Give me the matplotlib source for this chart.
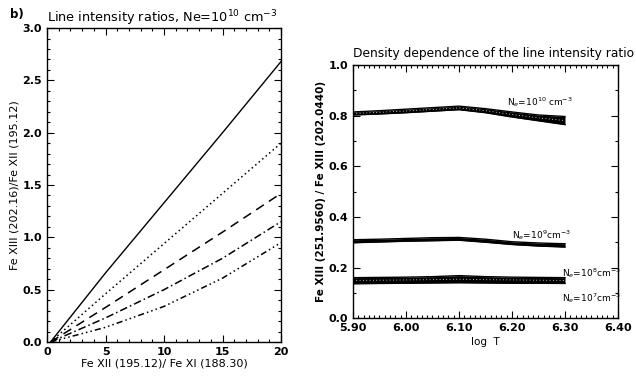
import numpy as np
import matplotlib
matplotlib.use("Agg")
import matplotlib.pyplot as plt
from matplotlib.ticker import MultipleLocator

# left panel: ratio vs ratio, Ne = 1e10
ratio_x = [0.3, 5, 10, 15, 20]
solid_y = [0.0, 0.66, 1.33, 2.00, 2.68]
dotted_y = [0.0, 0.46, 0.94, 1.42, 1.90]
dashed_y = [0.0, 0.33, 0.69, 1.05, 1.42]
dashdot_y = [0.0, 0.23, 0.50, 0.80, 1.15]
dashdots_y = [0.0, 0.14, 0.34, 0.61, 0.95]

# right panel: density dependence vs log T
logt = [5.90, 5.95, 6.00, 6.05, 6.10, 6.15, 6.20, 6.25, 6.30]
ne10_hi = [0.815, 0.820, 0.826, 0.832, 0.838, 0.828, 0.815, 0.803, 0.797]
ne10_lo = [0.803, 0.807, 0.812, 0.818, 0.824, 0.812, 0.795, 0.780, 0.765]
ne9_hi = [0.310, 0.312, 0.315, 0.318, 0.319, 0.312, 0.302, 0.297, 0.294]
ne9_lo = [0.298, 0.301, 0.304, 0.306, 0.308, 0.300, 0.291, 0.285, 0.281]
ne8_hi = [0.160, 0.161, 0.162, 0.164, 0.168, 0.164, 0.162, 0.161, 0.160]
ne7_lo = [0.136, 0.137, 0.138, 0.139, 0.140, 0.139, 0.138, 0.138, 0.137]
ne78_mid = [0.149, 0.150, 0.151, 0.152, 0.154, 0.152, 0.151, 0.150, 0.149]

fig = plt.figure(figsize=(6.36, 3.81), dpi=100)


def idl_axes(ax):
    ax.tick_params(which="both", direction="in", top=True, right=True, width=0.8)
    ax.tick_params(which="major", length=5)
    ax.tick_params(which="minor", length=2.5)
    for s in ax.spines.values():
        s.set_linewidth(1.0)
    for lab in ax.get_xticklabels() + ax.get_yticklabels():
        lab.set_fontweight("bold")
        lab.set_fontsize(8)


# ---- left
ax1 = fig.add_axes([0.0739, 0.1024, 0.368, 0.824])
ax1.plot(ratio_x, solid_y, color="black", lw=1.0, ls="-")
ax1.plot(ratio_x, dotted_y, color="black", lw=1.1, ls=(0, (1, 2)))
ax1.plot(ratio_x, dashed_y, color="black", lw=1.1, ls=(0, (6, 4)))
ax1.plot(ratio_x, dashdot_y, color="black", lw=1.1, ls=(0, (5, 2, 1, 2)))
ax1.plot(ratio_x, dashdots_y, color="black", lw=1.1, ls=(0, (4, 2, 1, 2, 1, 2, 1, 2)))
ax1.set_xlim(0, 20)
ax1.set_ylim(0, 3.0)
ax1.xaxis.set_major_locator(MultipleLocator(5))
ax1.xaxis.set_minor_locator(MultipleLocator(1))
ax1.yaxis.set_major_locator(MultipleLocator(0.5))
ax1.yaxis.set_minor_locator(MultipleLocator(0.1))
ax1.set_yticks([0, 0.5, 1.0, 1.5, 2.0, 2.5, 3.0])
ax1.set_yticklabels(["0.0", "0.5", "1.0", "1.5", "2.0", "2.5", "3.0"])
idl_axes(ax1)
ax1.set_xlabel("Fe XII (195.12)/ Fe XI (188.30)", fontsize=8, labelpad=1)
ax1.set_ylabel("Fe XIII (202.16)/Fe XII (195.12)", fontsize=8, labelpad=2)
ax1.set_title("Line intensity ratios, Ne=10$^{10}$ cm$^{-3}$", fontsize=9.3, pad=3, loc="left")
fig.text(0.015, 0.962, "b)", fontsize=8.5, fontweight="bold", va="center")

# ---- right
ax2 = fig.add_axes([0.555, 0.165, 0.4167, 0.664])
bands = [(ne10_lo, ne10_hi), (ne9_lo, ne9_hi), (ne7_lo, ne8_hi)]
for lo, hi in bands:
    ax2.fill_between(logt, lo, hi, color="black", lw=0)
    ax2.plot(logt, lo, color="black", lw=1.0)
    ax2.plot(logt, hi, color="black", lw=1.0)
ax2.plot(logt, ne78_mid, color="white", lw=0.6, ls=(0, (1, 3)))
ax2.plot(logt, [(a + b) / 2 for a, b in zip(ne10_lo, ne10_hi)], color="white", lw=0.6, ls=(0, (1, 3)))
ax2.set_xlim(5.90, 6.40)
ax2.set_ylim(0, 1.0)
ax2.xaxis.set_major_locator(MultipleLocator(0.1))
ax2.xaxis.set_minor_locator(MultipleLocator(0.01))
ax2.yaxis.set_major_locator(MultipleLocator(0.2))
ax2.yaxis.set_minor_locator(MultipleLocator(0.1))
ax2.set_xticks([5.9, 6.0, 6.1, 6.2, 6.3, 6.4])
ax2.set_xticklabels(["5.90", "6.00", "6.10", "6.20", "6.30", "6.40"])
ax2.set_yticks([0, 0.2, 0.4, 0.6, 0.8, 1.0])
ax2.set_yticklabels(["0.0", "0.2", "0.4", "0.6", "0.8", "1.0"])
idl_axes(ax2)
ax2.set_xlabel("log  T", fontsize=7.5, labelpad=3)
ax2.set_ylabel("Fe XIII (251.9560) / Fe XIII (202.0440)", fontsize=7.5, fontweight="bold", labelpad=2)
ax2.set_title("Density dependence of the line intensity ratio", fontsize=8.8, pad=6, loc="left")

ax2.text(6.19, 0.855, "N$_e$=10$^{10}$ cm$^{-3}$", fontsize=6.5, va="center")
ax2.text(6.20, 0.328, "N$_e$=10$^{9}$cm$^{-3}$", fontsize=6.5, va="center")
ax2.text(6.295, 0.18, "N$_e$=10$^{8}$cm$^{-3}$", fontsize=6.5, va="center")
ax2.text(6.295, 0.08, "N$_e$=10$^{7}$cm$^{-3}$", fontsize=6.5, va="center")

fig.savefig("out.png", dpi=100)
